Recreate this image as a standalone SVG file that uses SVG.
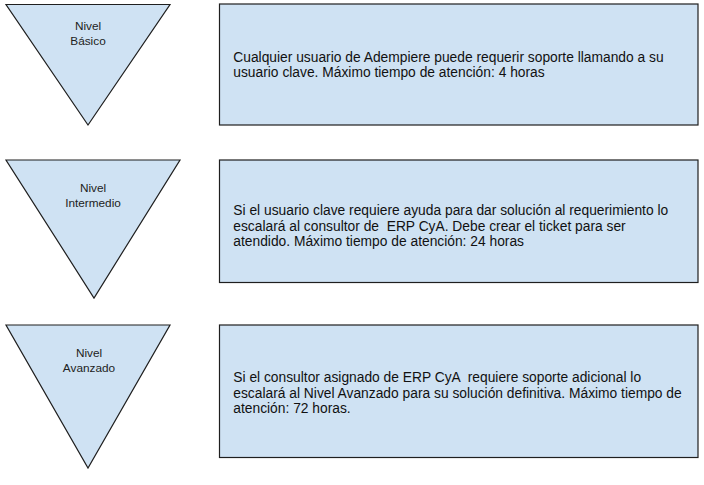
<svg xmlns="http://www.w3.org/2000/svg" width="704" height="485" viewBox="0 0 704 485">
<style>
.shape{fill:#cfe2f3;stroke:#1f1f1f;stroke-width:1.2}
.lbl{font-family:"Liberation Sans",Arial,sans-serif;font-size:11.8px;fill:#222;text-anchor:middle}
.txt{font-family:"Liberation Sans",Arial,sans-serif;font-size:13.8px;fill:#111;white-space:pre}
</style>
<rect width="704" height="485" fill="#ffffff"/>
<g id="connectors"></g>
<g id="tri-basico">
<polygon class="shape" points="6,4.5 170,4.5 88,125"/>
<text class="lbl" x="88" y="30">Nivel</text>
<text class="lbl" x="88" y="44.5">Básico</text>
</g>
<g id="box-basico">
<rect class="shape" x="219.5" y="4" width="478.5" height="121"/>
<text class="txt" x="233.3" y="62.3">Cualquier usuario de Adempiere puede requerir soporte llamando a su</text>
<text class="txt" x="233.3" y="77.3">usuario clave. Máximo tiempo de atención: 4 horas</text>
</g>
<g id="tri-intermedio">
<polygon class="shape" points="6,160 180,160 94,298"/>
<text class="lbl" x="93" y="192.3">Nivel</text>
<text class="lbl" x="93" y="206.7">Intermedio</text>
</g>
<g id="box-intermedio">
<rect class="shape" x="219.5" y="160" width="478.5" height="122.5"/>
<text class="txt" x="233.3" y="215.2" xml:space="preserve">Si el usuario clave requiere ayuda para dar solución al requerimiento lo</text>
<text class="txt" x="233.3" y="230.7" xml:space="preserve">escalará al consultor de  ERP CyA. Debe crear el ticket para ser</text>
<text class="txt" x="233.3" y="246.2">atendido. Máximo tiempo de atención: 24 horas</text>
</g>
<g id="tri-avanzado">
<polygon class="shape" points="6,325 170,325 88,468"/>
<text class="lbl" x="89" y="357.3">Nivel</text>
<text class="lbl" x="89" y="371.7">Avanzado</text>
</g>
<g id="box-avanzado">
<rect class="shape" x="219.5" y="325" width="478.5" height="132.5"/>
<text class="txt" x="233.3" y="382.3" xml:space="preserve">Si el consultor asignado de ERP CyA  requiere soporte adicional lo</text>
<text class="txt" x="233.3" y="397.8">escalará al Nivel Avanzado para su solución definitiva. Máximo tiempo de</text>
<text class="txt" x="233.3" y="413.3">atención: 72 horas.</text>
</g>
</svg>
